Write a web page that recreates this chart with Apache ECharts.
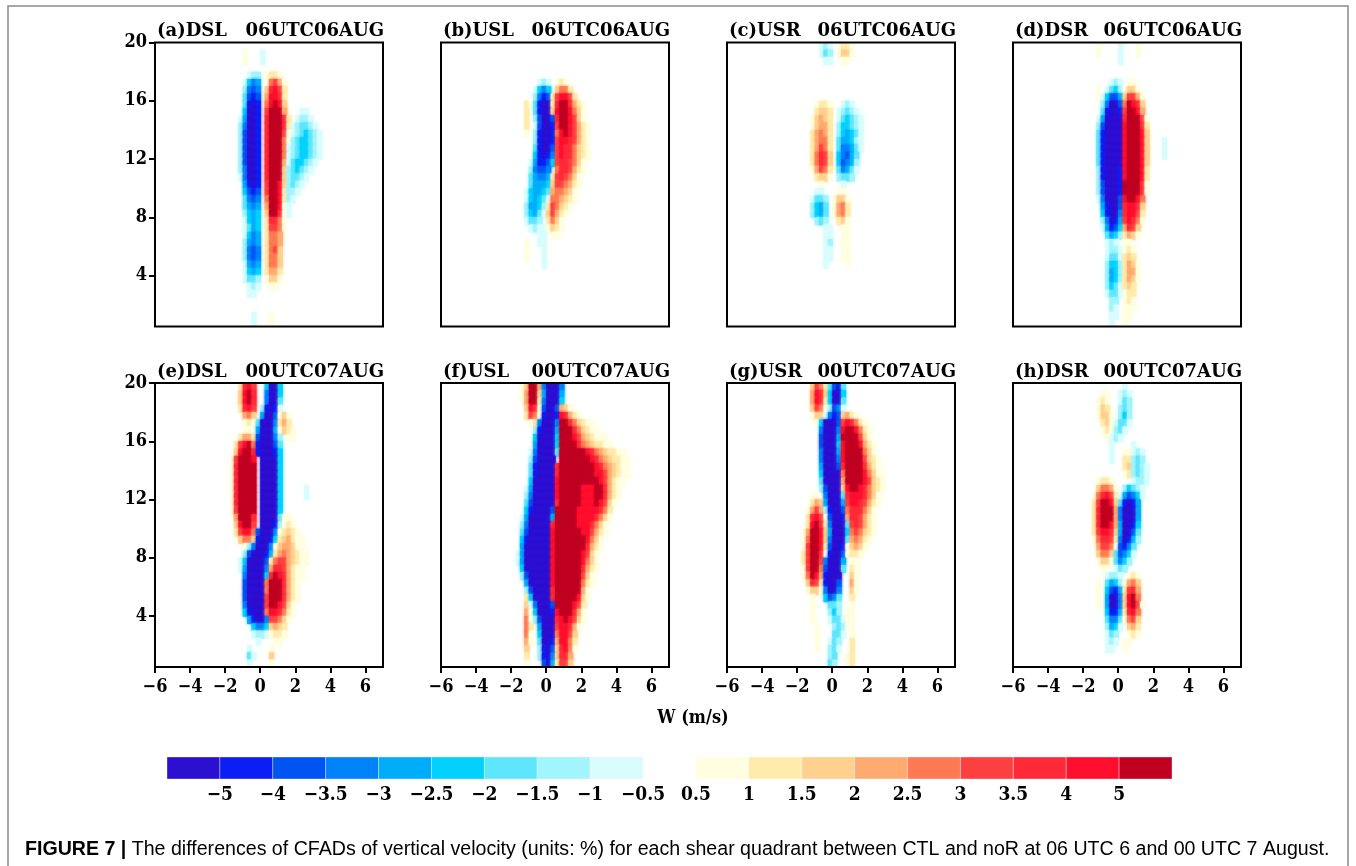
<!DOCTYPE html>
<html><head><meta charset="utf-8">
<script src="https://cdn.jsdelivr.net/npm/echarts@6/dist/echarts.min.js"></script>
<style>html,body{margin:0;padding:0;background:#fff}#c{width:1356px;height:866px}</style>
</head><body><div id="c"></div>
<script>
// ---------------- data ----------------
const panelLabels = ['(a)DSL','(b)USL','(c)USR','(d)DSR','(e)DSL','(f)USL','(g)USR','(h)DSR'];
const panelTimes = ['06UTC06AUG','06UTC06AUG','06UTC06AUG','06UTC06AUG','00UTC07AUG','00UTC07AUG','00UTC07AUG','00UTC07AUG'];
const xTicks = [-6,-4,-2,0,2,4,6];
const yTicks = [4,8,12,16,20];
const colorbarLabels = ['−5','−4','−3.5','−3','−2.5','−2','−1.5','−1','−0.5','0.5','1','1.5','2','2.5','3','3.5','4','5'];
// level codes: A (< -5) ... I (-1..-0.5), '.' = |diff| < 0.5, 1 (0.5..1) ... 9 (> 5)
const levelCodes  = ['A','B','C','D','E','F','G','H','I','1','2','3','4','5','6','7','8','9'];
const levelValues = [-6,-4.5,-3.75,-3.25,-2.75,-2.25,-1.75,-1.25,-0.75,0.75,1.25,1.75,2.25,2.75,3.25,3.75,4.5,6];
const levelColors = ['#2d0fd2','#0b1ef5','#0055f2','#0082fb','#00adfb','#00d2fb','#5ee6fd','#a2f4fd','#d9fdfd',
                     '#fffee0','#ffebab','#ffd08e','#ffaa70','#ff7a52','#ff4040','#ff2a38','#ff0e2e','#c00022'];
// grid of the CFAD differences: columns of 0.25 m/s starting at W=-3, rows of 0.5 km starting at 20 km (top)
const wStart = -3, wStep = 0.25, hTop = 20, hStep = 0.5;
// each row: "startColumn:codes" segments
const panelA = ['','8:1 12:I','8:1 12:I','','9:IHH 13:1221','8:IFDE 13:15641','8:HDCD 13:37862','8:GCBC 13:48872','8:GBAB 13:58983',
'8:FAAB 13:69994 21:II','7:IEAAB 13:799972 20:IHHI','7:HDAAB 13:799972 19:IHGGHI','7:HCAAB 13:799961 19:IHGFGHI','7:HCAAB 13:799951 19:HGFFGHI',
'7:HCAAB 13:79995 18:IHGFFGHI','7:HCAAB 13:79995 18:IHGFFGHI','7:HCAAB 13:79994 18:IGFFGHI','7:HDAAB 13:79993 18:HGFGHI','7:IDAAB 13:79993 18:HGGHI',
'8:EBAB 13:69983 18:HGHI','8:FCBC 13:69982 18:HHI','8:GDCD 13:59982 18:HI','8:GEDE 13:49981 18:I','8:HFEF 13:39971 18:I','8:IFEF 13:27751',
'8:IGEF 13:26651','8:IFDE 13:2554','8:HEDE 13:2554','8:HDCD 13:2563','8:HDCD 13:2553','8:IEDE 13:2553','8:IFEF 13:2442','8:IGGH 13:1331',
'9:IHI 14:11','9:II','','','10:I 14:1','10:I 14:1'];
const panelB = ['','','','','','10:IHI 14:121','9:IFDF 14:3552','9:HDBC 13:268862','7:21GBAA27997421','7:2.GBAA38998531','7:2.HCAAC7998631',
'7:2.ICAAB69986421','7:1.HBAAB58986421','9:HBAAB68876421','9:GBAAC68775321','9:FBABD68775321','8:IEBBCF6776531','8:HDCCD.5776421',
'8:GEDDE2676531','8:GEEEF3665421','7:IFEEFG455431','7:IFEFGI554321','7:HEEFH265321','7:HFEGI36421','7:IGGH.2531','8:IHII1321','10:II.11',
'7:1 10:II','7:1 11:I','7:1 11:I','11:I','','','','','','','',''];
const panelC = ['9:IHI 13:1221','9:IGH 13:1331','10:II 14:11','','','','','','8:1221 14:IHI','8:2332 13:IHGHI','7:13432 13:IGFGHI',
'7:13442 13:HFFGHI','7:24542 13:HFEFGI','7:24552 13:GEEFHI','7:24652 13:GDDEGI','7:25763 13:FDCEG','7:25763 13:FCDEH','7:14652 13:GDEGI',
'8:2331 13:HGGH','9:1 14:I','8:II 13:11','7:IGGH 12:1331','7:HFEG 12:1452','7:HFEG 12:1452','8:HGH 13:231','10:II 14:11','10:II 14:11',
'10:IH 14:11','10:II 14:11','10:II 14:11','10:I 15:1','','','','','','','',''];
const panelD = ['7:1 12:I 16:1','7:1 12:I 16:1','12:I','','','10:IHI 14:11','7:1 9:IGFH1331','7:1IFCCE36641','8:HDAAC59873','8:GBAAB69984',
'7:IEAAAA799961','7:HCAAAA899972','7:GBAAAA899983','7:GBAAAA899983 22:I','7:GBAAAA899983 22:I','7:GBAAAA899983 22:I','7:GBAAAA899983',
'7:HBAAAB899982','7:HBAAAB899982','7:HCAAAB999971','7:HCAAAB999971','7:IDAAAC89985','8:EBAAC78873','8:FBAAD78862','8:HDABE68751',
'8:IEBCF4763','9:GEFH2431','9:IHI.11','9:IHHI121','9:IGGI232','9:HFFH2431','9:HEFH2441','9:HEFH2431','9:HFGI232','9:IGGI122',
'10:HH.121','10:HI.111','10:II.11','10:I..1'];
const panelE = ['7:2786..FAAF','7:3897..DAAF','7:3897..DAAG','7:2786.HBABI','8:453.EAAC131','8:121GAAAD242','8:11.EAAAE1321',
'7:2442CAAADH.11','6:26895BAAACG','6:38997BAAABF','5:169998.AAAAF','5:179999.AAAAF','5:179999.AAAAF','5:179999.AAAAF',
'5:179999.AAAAF 22:I','5:179999.AAAAF 22:I','5:179999.AAAAF','5:169999.AAAAF','6:49997.AAAAG11','6:38996.AAABH121','6:26885CAAAD12321',
'7:3553BAABF234211','8:1HDAAAD1344311','8:HCAAABE24543211','7:IFAAAAC256643211','7:IEAAAAD47764211','8:DAAAAF79874211',
'8:CAAAA59997421','8:CAAAA59997421','8:CAAAA69997421','8:DAAAA6998631','8:FBAAA5887521','9:EBAAD66531','10:FDDF3432','10:IHHI1221',
'11:I...11','9:I....1','9:GI...3','9:I....1'];
const panelF = ['6:13994DAAAD','6:14993EAAAE','6:14992DAAAF','7:3871CAAC431','7:2651BAAB87421','8:12DAAAD99753211','9:HBAAAE999753211',
'9:FAAAAF99986432111','9:EAAAAF999975432211','8:IDAAAAG999999875432211','8:HCAAAA.9999999875432211','8:GBAAAA79999999987543211',
'8:GBAAAA79999999988643211','8:FAAAAA8999999999864211','7:IEAAAAA899999888997421','7:HDAAAAA899999888997421','7:GCAAAAA79999988898631',
'7:FBAAAAC9999988888752','6:IEAAAAAE9999988887531','6:HDAAAAA7999998887531','6:GCAAAAA8999999886421','6:FBAAAAA899999998531',
'6:EAAAAAA899999997421','5:IEAAAAAA89999998631','5:IEAAAAAA89999998531','6:FAAAAAA89999997421','6:HCAAAAA8999999631',
'7:EAAAAA8999999521','7:HCAAAA799999941','7:2FAAAA799999831','7:3IDAAAC9999862','7:41FAAAB8999741','7:51HCAAA7898631',
'7:52.EAAA688741','7:51.FAAA58863','7:41.GAAB48852','7:3..HBAC37851','7:2..HBAD3774','7:1...CAE2663'];
const panelG = ['7:3652GCBG','7:4873FAAF','7:4872FAAG','7:3651HCDI','7:133IDBC3421','8:1FAAAC687521','9:DAAAD8998521','9:CAAAE9999631',
'9:CAAAF89998421','9:DAAAE89999531','9:DAAAD899996321','9:EAAAC799997421','9:FAAAA5999985311','9:GAAAA4999986321','9:HCAAA3899875321',
'7:11.DAAAG78887531','7:243EAAAE68876421','6:1464HBAAC5777531','6:27861CAAB4776421','6:28972DAAAG676421','5:149983EAAAF565321',
'5:159983DAAAG45421','5:169982CAAB13431','5:269971BAAC1221','5:26996DAAAE.11','5:16995CAAAG.21','5:15984BAAA..31','6:3762BAAC..41',
'6:1331DAAD..31','7:1..FCDG..2','7:1...GGH..1','7:1...HFH.11','7:1...IGGI11','8:1...HGH11','8:1...GGI.1','8:1..IGH..2','8:1..HGI..2',
'11:HG..12','11:GH..12'];
const panelH = ['13:I','8:11..IHI','7:121..IGH','7:132..HGH','7:1331.HFH','8:231IGGI','8:121HGI','9:1IHI','10:I....I','10:I..11IHI',
'10:I..22HGH','13:23HGHI','13:12HGHI','7:1221....IHHI','7:35541.HFGHI','6:157862IECDFI','6:269983GBABE','6:279994DAAAE','6:279994DAAAE',
'6:279984EAABF','6:268873EAACG','6:157762DABEH','7:46651CBDG','7:3553GCDFI','7:1331GDFH','8:11.IGH','9:IHHI.121','7:1.GEFH1453',
'7:1.FCBE2674','7:1.EAAD3895','7:1.EAAD38961','9:FBBE2785','9:GDDG1563','9:HEFI.342','9:IGH..121','9:IHI.11','9:II..1','',''];
const panels = [panelA,panelB,panelC,panelD,panelE,panelF,panelG,panelH];

// ---------------- build ----------------
function parsePanel(rows){
  const out = [];
  rows.forEach((row, r) => {
    if (!row) return;
    row.split(' ').forEach(seg => {
      const parts = seg.split(':');
      let c = +parts[0];
      for (const ch of parts[1]) {
        const k = levelCodes.indexOf(ch);
        if (k >= 0) out.push([wStart + wStep*(c+0.5), hTop - hStep*(r+0.5), levelValues[k]]);
        c++;
      }
    });
  });
  return out;
}
const serif = '"DejaVu Serif"';
const serifC = '"DejaVu Serif Condensed", "DejaVu Serif"';
const lefts = [155, 441, 727, 1013], tops = [42.5, 383], PW = 228, PH = 284;
const grids = [], xAxes = [], yAxes = [], series = [], graphics = [];
function renderCell(params, api){
  const w = api.value(0), h = api.value(1);
  const a = api.coord([w - wStep/2, h + hStep/2]);
  const b = api.coord([w + wStep/2, h - hStep/2]);
  const c = api.visual('color');
  return {type:'rect', shape:{x:a[0], y:a[1], width:b[0]-a[0]+0.7, height:b[1]-a[1]+0.7},
          style:{fill: c, shadowBlur: 3, shadowColor: c}};
}
for (let i = 0; i < 8; i++){
  const col = i % 4, row = Math.floor(i/4);
  const bottom = row === 1, leftCol = col === 0;
  grids.push({left: lefts[col], top: tops[row], width: PW, height: PH, show: true, borderColor: '#000', borderWidth: 2,
              backgroundColor: 'rgba(0,0,0,0)', z: 10});
  xAxes.push({gridIndex: i, type: 'value', min: -6, max: 7, position: 'bottom',
    axisLine: {show: false, onZero: false}, splitLine: {show: false},
    axisTick: {show: bottom, length: 6, lineStyle: {color: '#000', width: 2}, customValues: xTicks},
    axisLabel: {show: bottom, customValues: xTicks, margin: 11, color: '#000', fontFamily: serifC, fontWeight: 'bold', fontSize: 18,
                formatter: v => String(v).replace('-', '−')}});
  yAxes.push({gridIndex: i, type: 'value', min: 0.5, max: 20, position: 'left',
    axisLine: {show: false, onZero: false}, splitLine: {show: false},
    axisTick: {show: leftCol, length: 6, lineStyle: {color: '#000', width: 2}, customValues: yTicks},
    axisLabel: {show: leftCol, customValues: yTicks, margin: 8, color: '#000', fontFamily: serifC, fontWeight: 'bold', fontSize: 18}});
  series.push({type: 'custom', xAxisIndex: i, yAxisIndex: i, data: parsePanel(panels[i]), renderItem: renderCell,
               clip: true, silent: true, encode: {x: 0, y: 1}});
  graphics.push({type: 'text', x: lefts[col] + 2, y: tops[row] - 11,
    style: {text: panelLabels[i], font: 'bold 18px ' + serif, fill: '#000', align: 'left', verticalAlign: 'middle',
            textAlign: 'left', textVerticalAlign: 'middle'}});
  graphics.push({type: 'text', x: lefts[col] + PW + 1, y: tops[row] - 11,
    style: {text: panelTimes[i], font: 'bold 18px ' + serif, fill: '#000', align: 'right', verticalAlign: 'middle',
            textAlign: 'right', textVerticalAlign: 'middle'}});
}
// colorbar boxes: [box index, y, level value]; box 9 is the white gap
const cbData = [];
for (let i = 0; i < 19; i++){
  if (i === 9) continue;
  cbData.push([i, 0.5, levelValues[i < 9 ? i : i - 1]]);
}
grids.push({left: 167, top: 757, width: 1005, height: 22});
xAxes.push({gridIndex: 8, type: 'value', min: 0, max: 19, axisLine: {show: false, onZero: false}, axisTick: {show: false}, splitLine: {show: false},
  axisLabel: {customValues: [1,2,3,4,5,6,7,8,9,10,11,12,13,14,15,16,17,18], margin: 7, color: '#000',
              fontFamily: serifC, fontWeight: 'bold', fontSize: 19,
              formatter: v => colorbarLabels[v - 1]}});
yAxes.push({gridIndex: 8, type: 'value', min: 0, max: 1, show: false});
series.push({type: 'custom', xAxisIndex: 8, yAxisIndex: 8, data: cbData, silent: true, encode: {x: 0, y: 1},
  renderItem: (p, api) => {
    const i = api.value(0);
    const a = api.coord([i, 1]), b = api.coord([i + 1, 0]);
    return {type: 'rect', shape: {x: a[0], y: a[1], width: b[0]-a[0], height: b[1]-a[1]},
            style: {fill: api.visual('color'), stroke: 'rgba(255,255,255,0.35)', lineWidth: 1}};
  }});

graphics.push({type: 'rect', shape: {x: 8, y: 6, width: 1340, height: 900}, style: {fill: 'none', stroke: '#8a8a8a', lineWidth: 1.5}, z: -10});
graphics.push({type: 'text', x: 693, y: 718, style: {text: 'W (m/s)', font: 'bold 18px ' + serifC, fill: '#000',
  align: 'center', verticalAlign: 'middle', textAlign: 'center', textVerticalAlign: 'middle'}});
graphics.push({type: 'text', x: 25, y: 850, style: {
  text: '{b|FIGURE 7 |} The differences of CFADs of vertical velocity (units: %) for each shear quadrant between CTL and noR at 06 UTC 6 and 00 UTC 7 August.',
  font: '19.6px "Liberation Sans"', fill: '#000', align: 'left', verticalAlign: 'middle', textAlign: 'left', textVerticalAlign: 'middle',
  rich: {b: {font: 'bold 19.6px "Liberation Sans"', fill: '#000'}}}});

const chart = echarts.init(document.getElementById('c'), null, {renderer: 'canvas', width: 1356, height: 866});
chart.setOption({
  animation: false,
  backgroundColor: '#fff',
  grid: grids, xAxis: xAxes, yAxis: yAxes, series: series,
  visualMap: {type: 'piecewise', show: false, dimension: 2, seriesIndex: [0,1,2,3,4,5,6,7,8],
              pieces: levelValues.map((v, k) => ({value: v, color: levelColors[k]}))},
  graphic: graphics
});
</script></body></html>
